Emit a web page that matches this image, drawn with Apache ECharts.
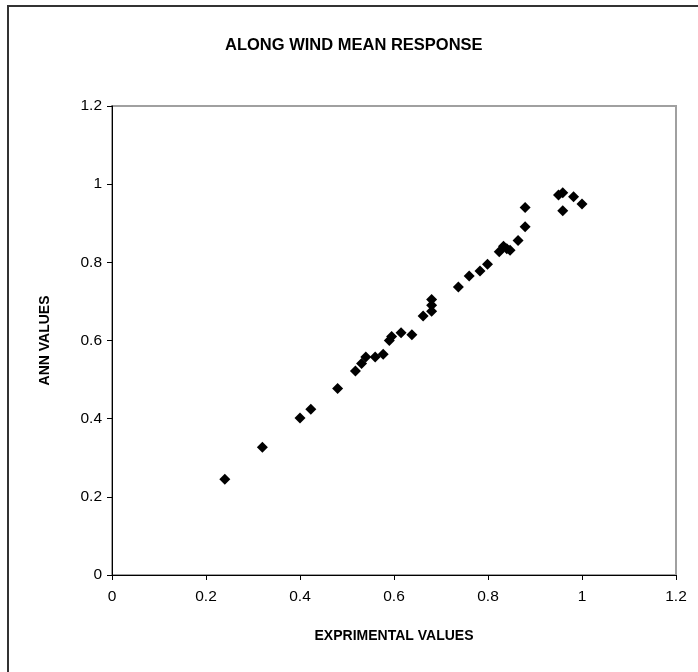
<!DOCTYPE html>
<html>
<head>
<meta charset="utf-8">
<script src="https://cdn.jsdelivr.net/npm/echarts@6/dist/echarts.min.js"></script>
<style>html,body{margin:0;padding:0;background:#fff}#c{width:698px;height:672px}</style>
</head>
<body>
<div id="c"></div>
<script>
const experimental = [0.24, 0.32, 0.40, 0.423, 0.48, 0.518, 0.531, 0.54, 0.56, 0.577, 0.59, 0.595, 0.615, 0.638, 0.662, 0.68, 0.68, 0.68, 0.737, 0.76, 0.783, 0.799, 0.824, 0.833, 0.84, 0.847, 0.864, 0.879, 0.879, 0.95, 0.959, 0.959, 0.982, 1.0];
const ann = [0.245, 0.327, 0.402, 0.424, 0.477, 0.522, 0.541, 0.558, 0.558, 0.565, 0.60, 0.61, 0.62, 0.615, 0.663, 0.675, 0.69, 0.705, 0.737, 0.765, 0.778, 0.795, 0.827, 0.841, 0.835, 0.831, 0.856, 0.891, 0.940, 0.972, 0.978, 0.932, 0.968, 0.949];
const xTicks = [0, 0.2, 0.4, 0.6, 0.8, 1, 1.2];
const yTicks = [0, 0.2, 0.4, 0.6, 0.8, 1, 1.2];
const titleText = 'ALONG WIND MEAN RESPONSE';
const xName = 'EXPRIMENTAL VALUES';
const yName = 'ANN VALUES';

const chart = echarts.init(document.getElementById('c'), null, {renderer: 'canvas'});
const font = 'Arial, "Liberation Sans", sans-serif';
chart.setOption({
  animation: false,
  backgroundColor: '#fff',
  title: {
    text: titleText, left: 220, top: 32,
    textStyle: {fontFamily: font, fontSize: 16.5, fontWeight: 'bold', color: '#000'}
  },
  graphic: [{
    type: 'rect', shape: {x: 8, y: 6, width: 720, height: 700},
    style: {fill: 'none', stroke: '#333', lineWidth: 2}, silent: true, z: 100
  }],
  grid: {left: 112, right: 22, top: 106, bottom: 97, show: true, borderColor: '#a0a0a0', borderWidth: 2, backgroundColor: 'transparent'},
  xAxis: {
    type: 'value', min: 0, max: 1.2, interval: 0.2,
    name: xName, nameLocation: 'middle', nameGap: 54,
    nameTextStyle: {fontFamily: font, fontSize: 14, fontWeight: 'bold', color: '#000'},
    axisLine: {show: true, lineStyle: {color: '#000', width: 1}},
    axisTick: {show: true, length: 5, lineStyle: {color: '#000'}},
    axisLabel: {fontFamily: font, fontSize: 15.5, color: '#000', margin: 14,
      formatter: v => { const t = xTicks.find(k => Math.abs(k - v) < 1e-9); return t === undefined ? '' : String(t); }},
    splitLine: {show: false}
  },
  yAxis: {
    type: 'value', min: 0, max: 1.2, interval: 0.2,
    name: yName, nameLocation: 'middle', nameGap: 60, nameRotate: 90,
    nameTextStyle: {fontFamily: font, fontSize: 14, fontWeight: 'bold', color: '#000'},
    axisLine: {show: true, lineStyle: {color: '#000', width: 1}},
    axisTick: {show: true, length: 5, lineStyle: {color: '#000'}},
    axisLabel: {fontFamily: font, fontSize: 15.5, color: '#000', margin: 10,
      formatter: v => { const t = yTicks.find(k => Math.abs(k - v) < 1e-9); return t === undefined ? '' : String(t); }},
    splitLine: {show: false}
  },
  series: [{
    type: 'scatter',
    symbol: 'diamond',
    symbolSize: 11,
    itemStyle: {color: '#000', opacity: 1},
    data: experimental.map((x, i) => [x, ann[i]])
  }]
});
</script>
</body>
</html>
